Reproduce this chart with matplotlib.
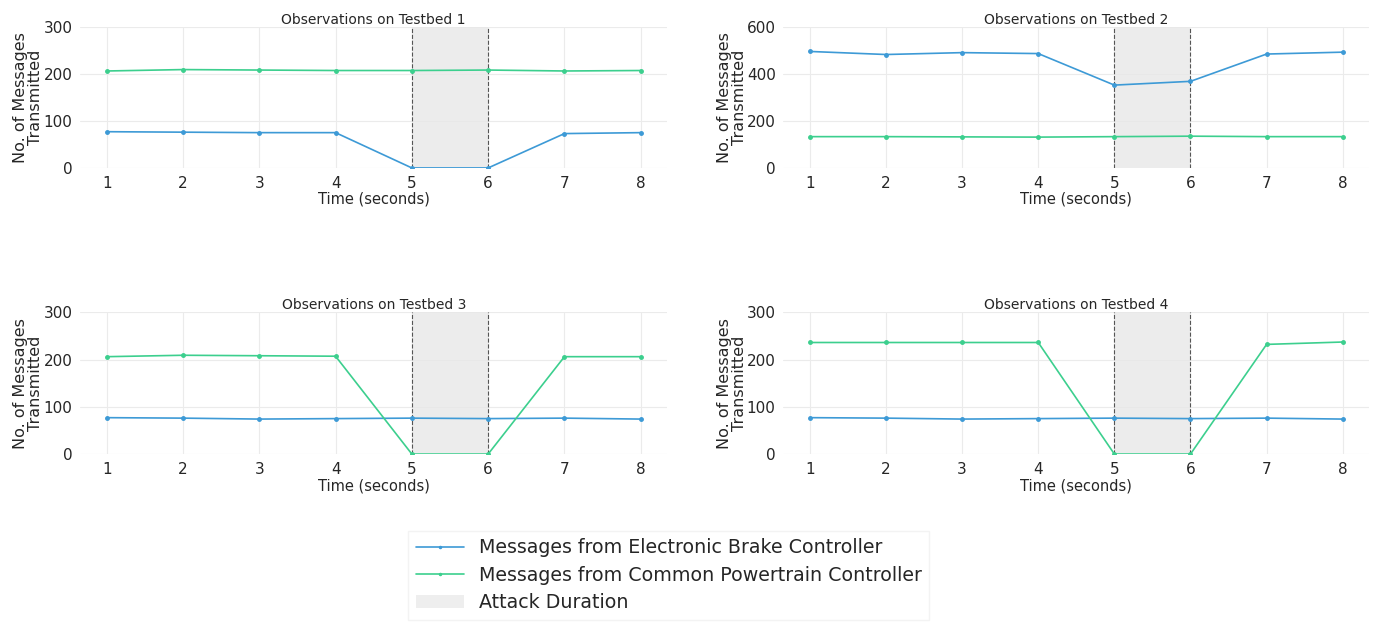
import matplotlib
matplotlib.use("Agg")
import matplotlib.pyplot as plt
import seaborn as sns
from matplotlib.patches import Patch
from matplotlib.lines import Line2D

sns.set_style("whitegrid")
plt.rcParams['font.family'] = ['DejaVu Sans']

time = [1, 2, 3, 4, 5, 6, 7, 8]
titles = ["Observations on Testbed 1", "Observations on Testbed 2",
          "Observations on Testbed 3", "Observations on Testbed 4"]

ebc_1 = [77, 76, 75, 75, 0, 0, 73, 75]
cpc_1 = [206, 209, 208, 207, 207, 208, 206, 207]
ebc_2 = [495, 482, 490, 486, 352, 368, 484, 492]
cpc_2 = [133, 133, 132, 131, 133, 135, 133, 133]
ebc_3 = [77, 76, 74, 75, 76, 75, 76, 74]
cpc_3 = [206, 209, 208, 207, 0, 0, 206, 206]
ebc_4 = [77, 76, 74, 75, 76, 75, 76, 74]
cpc_4 = [236, 236, 236, 236, 0, 0, 232, 237]
ylims = [300, 600, 300, 300]
attack = (5, 6)

ebc_all = [ebc_1, ebc_2, ebc_3, ebc_4]
cpc_all = [cpc_1, cpc_2, cpc_3, cpc_4]

BLUE = "#3d9ad6"
GREEN = "#3ccf8e"

fig = plt.figure(figsize=(13.79, 6.22), dpi=100)
boxes = [
    [0.058, 0.730, 0.426, 0.227],
    [0.568, 0.730, 0.425, 0.227],
    [0.058, 0.270, 0.426, 0.228],
    [0.568, 0.270, 0.425, 0.228],
]

for i in range(4):
    ax = fig.add_axes(boxes[i])
    ax.axvspan(attack[0], attack[1], color="#e8e8e8", alpha=0.8, lw=0, zorder=1)
    ax.axvline(attack[0], color="#555555", ls="--", lw=0.8, zorder=2)
    ax.axvline(attack[1], color="#555555", ls="--", lw=0.8, zorder=2)
    ax.plot(time, ebc_all[i], color=BLUE, marker="o", markersize=2.5, lw=1.2, zorder=3)
    ax.plot(time, cpc_all[i], color=GREEN, marker="o", markersize=2.5, lw=1.2, zorder=3)
    ax.set_ylim(0, ylims[i])
    ax.set_yticks(range(0, ylims[i] + 1, ylims[i] // 3))
    ax.set_xticks(time)
    ax.set_title(titles[i], fontsize=10, pad=2)
    ax.set_xlabel("Time (seconds)", fontsize=10.5, labelpad=1)
    ax.set_ylabel("No. of Messages\nTransmitted", fontsize=11.5, labelpad=0, linespacing=1.0)
    ax.tick_params(labelsize=11, pad=2)
    ax.grid(color="#ebebeb", lw=0.8)
    for s in ax.spines.values():
        s.set_visible(False)

handles = [
    Line2D([], [], color=BLUE, marker="o", markersize=1.5, lw=1.2),
    Line2D([], [], color=GREEN, marker="o", markersize=1.5, lw=1.2),
    Patch(facecolor="#eeeeee", edgecolor="none"),
]
labels = ["Messages from Electronic Brake Controller",
          "Messages from Common Powertrain Controller",
          "Attack Duration"]
fig.legend(handles, labels, loc="center", bbox_to_anchor=(0.485, 0.075),
           fontsize=13.7, frameon=True, edgecolor="#f0f0f0", fancybox=False,
           handlelength=2.5, labelspacing=0.45)

fig.savefig("out.png", dpi=100, facecolor="white")
